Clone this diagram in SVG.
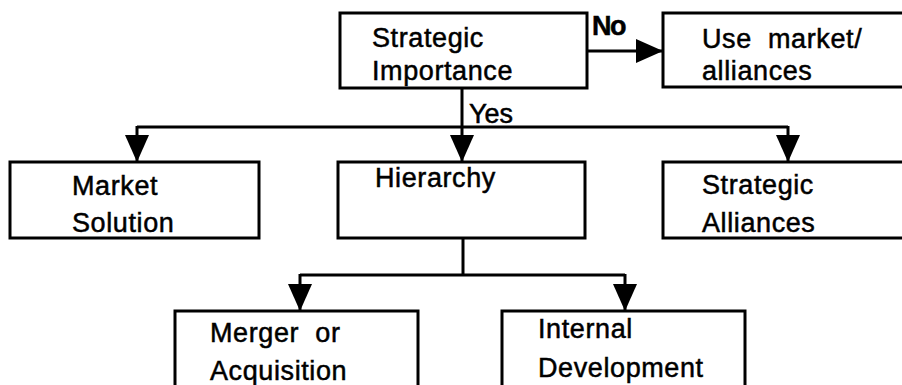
<svg xmlns="http://www.w3.org/2000/svg" width="902" height="385" viewBox="0 0 902 385">
  <style>
    .box { fill: #fff; stroke: #000; stroke-width: 3; }
    .wire { fill: none; stroke: #000; stroke-width: 3; }
    .lbl { font-family: "Liberation Sans", Arial, sans-serif; font-size: 27px; fill: #000; stroke: #000; stroke-width: 0.5px; letter-spacing: 0.6px; white-space: pre; }
    .tag { font-family: "Liberation Sans", Arial, sans-serif; font-size: 27px; fill: #000; stroke: #000; stroke-width: 0.5px; }
  </style>
  <defs>
    <marker id="head" markerUnits="userSpaceOnUse" markerWidth="27" markerHeight="24" refX="27" refY="12" orient="auto">
      <path d="M0,0 L27,12 L0,24 Z" fill="#000"/>
    </marker>
  </defs>
  <rect width="902" height="385" fill="#fff"/>

  <!-- connectors -->
  <g id="connectors">
    <line class="wire" x1="587" y1="51" x2="663" y2="51" marker-end="url(#head)"/>
    <polyline class="wire" points="462,88 462,127"/>
    <line class="wire" x1="137" y1="127" x2="788" y2="127"/>
    <line class="wire" x1="137" y1="126" x2="137" y2="162" marker-end="url(#head)"/>
    <line class="wire" x1="462" y1="126" x2="462" y2="162" marker-end="url(#head)"/>
    <line class="wire" x1="788" y1="126" x2="788" y2="162" marker-end="url(#head)"/>
    <line class="wire" x1="463" y1="238" x2="463" y2="275"/>
    <line class="wire" x1="300" y1="275" x2="625" y2="275"/>
    <line class="wire" x1="300" y1="274" x2="300" y2="311" marker-end="url(#head)"/>
    <line class="wire" x1="625" y1="274" x2="625" y2="311" marker-end="url(#head)"/>
    <text class="tag" x="592" y="35" font-weight="bold" letter-spacing="-1.5">No</text>
    <text class="tag" x="469" y="123">Yes</text>
  </g>

  <g id="strategic-importance">
    <rect class="box" x="340" y="13" width="247" height="75"/>
    <text class="lbl" x="372" y="47">Strategic</text>
    <text class="lbl" x="372" y="80">Importance</text>
  </g>

  <g id="use-market">
    <rect class="box" x="663" y="13" width="245" height="74"/>
    <text class="lbl" x="702" y="48">Use  market/</text>
    <text class="lbl" x="702" y="80">alliances</text>
  </g>

  <g id="market-solution">
    <rect class="box" x="10" y="162" width="249" height="76"/>
    <text class="lbl" x="72" y="195">Market</text>
    <text class="lbl" x="72" y="232">Solution</text>
  </g>

  <g id="hierarchy">
    <rect class="box" x="338" y="162" width="247" height="76"/>
    <text class="lbl" x="375" y="187">Hierarchy</text>
  </g>

  <g id="strategic-alliances">
    <rect class="box" x="663" y="162" width="245" height="76"/>
    <text class="lbl" x="702" y="194">Strategic</text>
    <text class="lbl" x="702" y="232">Alliances</text>
  </g>

  <g id="merger">
    <rect class="box" x="175" y="311" width="243" height="90"/>
    <text class="lbl" x="210" y="342">Merger  or</text>
    <text class="lbl" x="210" y="380">Acquisition</text>
  </g>

  <g id="internal">
    <rect class="box" x="502" y="311" width="243" height="90"/>
    <text class="lbl" x="538" y="338">Internal</text>
    <text class="lbl" x="538" y="377">Development</text>
  </g>
</svg>
